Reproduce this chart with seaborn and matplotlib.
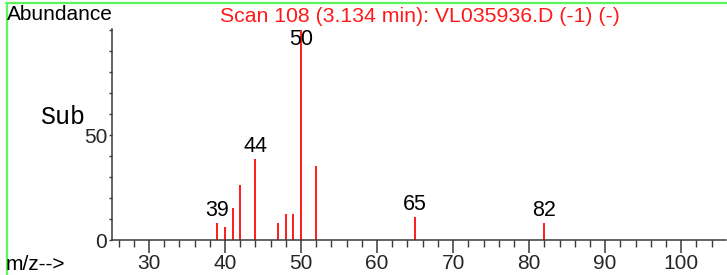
import numpy as np
import matplotlib
matplotlib.use("Agg")
import matplotlib.pyplot as plt
from matplotlib.lines import Line2D
from matplotlib.ticker import MultipleLocator, FixedLocator
import seaborn as sns

# --- spectrum data ---
mz = [39, 40, 41, 42, 44, 47, 48, 49, 50, 52, 65, 82]
abundance = [8.0, 6.0, 15.2, 26.2, 38.4, 8.0, 12.4, 12.4, 100.0, 35.4, 11.0, 8.0]
labelled = [39, 44, 50, 65, 82]

title = "Scan 108 (3.134 min): VL035936.D (-1) (-)"
x_ticks = [30, 40, 50, 60, 70, 80, 90, 100]
y_ticks = [0, 50]

sns.set_style("ticks")
plt.rcParams["font.family"] = ["Liberation Sans", "DejaVu Sans"]

W, H = 727, 275
fig = plt.figure(figsize=(W / 100, H / 100), dpi=100)
ax = fig.add_axes([112 / W, 35 / H, (726 - 112) / W, 211 / H])

red = "#ff1a1a"
axis_col = "#3a3a3a"

ax.vlines(mz, 0, abundance, colors=red, linewidth=1.4)

for m, a in zip(mz, abundance):
    if m in labelled:
        ax.annotate(str(m), (m, min(a, 89.5)), xytext=(0, 1.5), textcoords="offset points",
                    ha="center", va="bottom", fontsize=15.5, color="black")

ax.set_xlim(25.13, 105.9)
ax.set_ylim(0, 100.5)

ax.xaxis.set_major_locator(FixedLocator(x_ticks))
ax.xaxis.set_minor_locator(MultipleLocator(2))
ax.yaxis.set_major_locator(FixedLocator(y_ticks))
ax.yaxis.set_minor_locator(MultipleLocator(10))

ax.tick_params(axis="x", which="major", length=9.4, width=1.1, color=axis_col, labelsize=15, pad=1)
ax.tick_params(axis="x", which="minor", length=5, width=1.0, color=axis_col)
ax.tick_params(axis="y", which="both", length=2.5, width=1.0, color=axis_col, labelsize=15, pad=1)

sns.despine(ax=ax)
for side in ["left", "bottom"]:
    ax.spines[side].set_color(axis_col)
    ax.spines[side].set_linewidth(1.1)
ax.set_facecolor("white")

# figure texts
fig.text(420 / W, 1 - 17 / H, title, color=red, fontsize=15.3, ha="center", va="center")
fig.text(7 / W, 1 - 15 / H, "Abundance", color="black", fontsize=15, ha="left", va="center")
fig.text(40 / W, 1 - 124 / H, "Sub", color="black", fontsize=18, ha="left", va="baseline",
         family=["Liberation Mono", "DejaVu Sans Mono"])
fig.text(6 / W, 1 - 270 / H, "m/z-->", color="black", fontsize=15, ha="left", va="baseline")

# green frame (top and left)
green = "#5cf55c"
fig.add_artist(Line2D([6 / W, 1], [1 - 2.5 / H, 1 - 2.5 / H], color=green, linewidth=1.6))
fig.add_artist(Line2D([7 / W, 7 / W], [0, 1 - 2.5 / H], color=green, linewidth=1.6))

fig.savefig("out.png", dpi=100)
